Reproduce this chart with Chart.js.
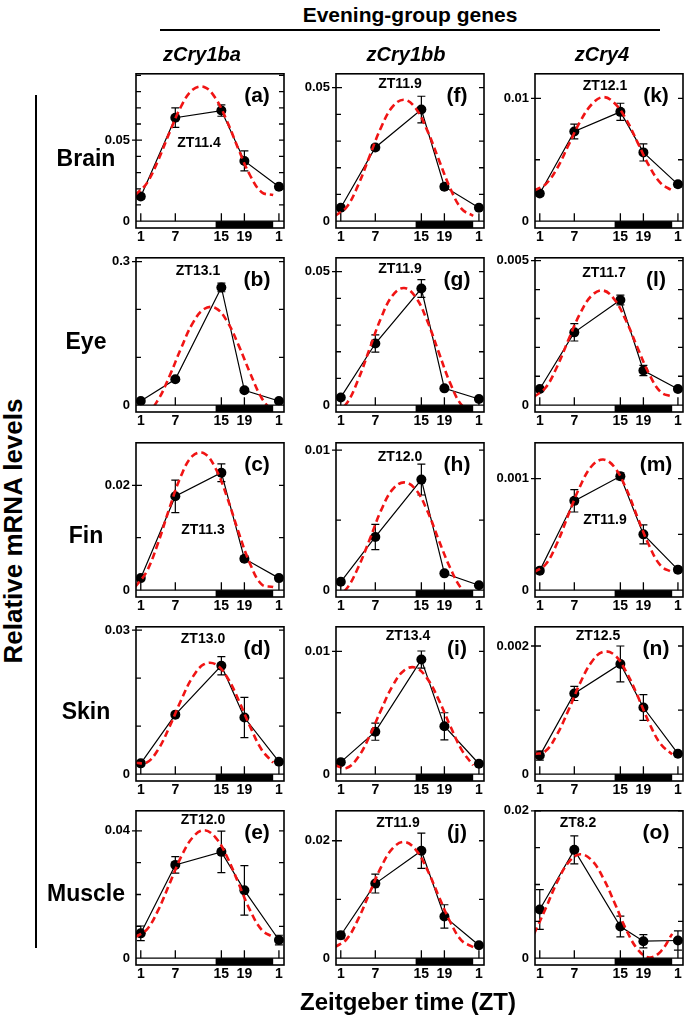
<!DOCTYPE html>
<html>
<head>
<meta charset="utf-8">
<script src="https://cdn.jsdelivr.net/npm/chart.js@4.4.1/dist/chart.umd.min.js"></script>
<style>
  body { margin: 0; background: #fff; }
  #fig { position: relative; width: 685px; height: 1019px; overflow: hidden;
         font-family: "Liberation Sans", Arial, sans-serif; font-weight: bold; color: #000; }
  #fig canvas { position: absolute; }
  .lbl { position: absolute; white-space: nowrap; line-height: 1; transform: translate(-50%, -50%); }
  .rule { position: absolute; background: #000; }
</style>
</head>
<body>
<div id="fig"></div>
<script>
// ==========================================
// DATA
// ==========================================
const genes = ['zCry1ba', 'zCry1bb', 'zCry4'];
const tissues = ['Brain', 'Eye', 'Fin', 'Skin', 'Muscle'];
const panelLetters = ['(a)', '(b)', '(c)', '(d)', '(e)', '(f)', '(g)', '(h)', '(i)', '(j)', '(k)', '(l)', '(m)', '(n)', '(o)'];
const peakLabels = ['ZT11.4', 'ZT13.1', 'ZT11.3', 'ZT13.0', 'ZT12.0',
                    'ZT11.9', 'ZT11.9', 'ZT12.0', 'ZT13.4', 'ZT11.9',
                    'ZT12.1', 'ZT11.7', 'ZT11.9', 'ZT12.5', 'ZT8.2'];

// sampling times
const zt = [1, 7, 15, 19, 25];
const fitZT = [0, 2, 4, 6, 8, 10, 12, 14, 16, 18, 20, 22, 24];
const xTickZT = [1, 7, 15, 19, 25];
const xTickLabels = ['1', '7', '15', '19', '1'];
const darkStart = 14;
const darkEnd = 24;

// y axis: labelled tick, minor step, top of axis
const yTickLabels = ['0.05', '0.3', '0.02', '0.03', '0.04',
                     '0.05', '0.05', '0.01', '0.01', '0.02',
                     '0.01', '0.005', '0.001', '0.002', '0.02'];
const yMinorStep = [0.01, 0.1, 0.01, 0.01, 0.01,
                    0.01, 0.01, 0.005, 0.005, 0.01,
                    0.005, 0.001, 0.0005, 0.001, 0.005];
const yMax = [0.091, 0.308, 0.0281, 0.0307, 0.0463,
              0.0552, 0.0552, 0.01053, 0.012, 0.0251,
              0.0120, 0.0051, 0.00132, 0.0023, 0.020];

// zCry1ba
const aMean = [0.0152, 0.0639, 0.0683, 0.0372, 0.0213];
const aErr  = [0.0015, 0.0060, 0.0035, 0.0062, 0.0015];
const aFit  = [0.0161, 0.0232, 0.0374, 0.0548, 0.0708, 0.0811, 0.0829, 0.0758, 0.0616, 0.0442, 0.0282, 0.0179, 0.0161];
const bMean = [0.0088, 0.054, 0.246, 0.031, 0.0088];
const bErr  = [0.002, 0.004, 0.009, 0.004, 0.002];
const bFit  = [-0.015, -0.017, 0.011, 0.061, 0.119, 0.171, 0.201, 0.203, 0.175, 0.125, 0.067, 0.015, -0.015];
const cMean = [0.0023, 0.0179, 0.0224, 0.0060, 0.0023];
const cErr  = [0.0004, 0.0031, 0.0017, 0.0005, 0.0004];
const cFit  = [0.0006, 0.0035, 0.0090, 0.0157, 0.0218, 0.0256, 0.0261, 0.0232, 0.0177, 0.0110, 0.0050, 0.0011, 0.0006];
const dMean = [0.00225, 0.0124, 0.0226, 0.0118, 0.0026];
const dErr  = [0.0005, 0.0004, 0.0019, 0.0042, 0.0003];
const dFit  = [0.0024, 0.0024, 0.0051, 0.0099, 0.0154, 0.0202, 0.0229, 0.0229, 0.0202, 0.0154, 0.0099, 0.0051, 0.0024];
const eMean = [0.0078, 0.0293, 0.0334, 0.0213, 0.0057];
const eErr  = [0.0023, 0.0026, 0.0065, 0.0078, 0.0015];
const eFit  = [0.0066, 0.0089, 0.0150, 0.0234, 0.0318, 0.0379, 0.0402, 0.0379, 0.0318, 0.0234, 0.0150, 0.0089, 0.0066];

// zCry1bb
const fMean = [0.0050, 0.0276, 0.0418, 0.0129, 0.0050];
const fErr  = [0.0004, 0.0010, 0.0050, 0.0010, 0.0004];
const fFit  = [0.0020, 0.0052, 0.0134, 0.0243, 0.0351, 0.0429, 0.0455, 0.0423, 0.0341, 0.0232, 0.0124, 0.0046, 0.0020];
const gMean = [0.0029, 0.0231, 0.0437, 0.0063, 0.0023];
const gErr  = [0.0004, 0.0032, 0.0033, 0.0006, 0.0003];
const gFit  = [-0.0028, 0.0006, 0.0094, 0.0211, 0.0327, 0.0411, 0.0439, 0.0405, 0.0317, 0.0199, 0.0083, 0.0000, -0.0028];
const hMean = [0.0006, 0.0038, 0.0079, 0.0012, 0.00035];
const hErr  = [0.0001, 0.0009, 0.0011, 0.0001, 0.0001];
const hFit  = [-0.0005, 0.0001, 0.0016, 0.0036, 0.0057, 0.0072, 0.0077, 0.0072, 0.0057, 0.0036, 0.0016, 0.0001, -0.0005];
const iMean = [0.00098, 0.00346, 0.00933, 0.0039, 0.00085];
const iErr  = [0.0001, 0.0007, 0.0007, 0.0011, 0.0001];
const iFit  = [0.00072, 0.00050, 0.00137, 0.00310, 0.00523, 0.00719, 0.00845, 0.00867, 0.00780, 0.00607, 0.00394, 0.00198, 0.00072];
const jMean = [0.0039, 0.0127, 0.0183, 0.0071, 0.0022];
const jErr  = [0.0006, 0.0016, 0.0030, 0.0020, 0.0003];
const jFit  = [0.0019, 0.0032, 0.0066, 0.0111, 0.0155, 0.0187, 0.0198, 0.0185, 0.0151, 0.0106, 0.0062, 0.0030, 0.0019];

// zCry4
const kMean = [0.00225, 0.0073, 0.0089, 0.0056, 0.0030];
const kErr  = [0.0002, 0.0006, 0.0007, 0.0007, 0.0002];
const kFit  = [0.0025, 0.0030, 0.0043, 0.0062, 0.0081, 0.0095, 0.0101, 0.0096, 0.0083, 0.0064, 0.0045, 0.0031, 0.0025];
const lMean = [0.00056, 0.00252, 0.00364, 0.0012, 0.00056];
const lErr  = [0.00005, 0.0003, 0.00017, 0.00018, 0.00004];
const lFit  = [0.00029, 0.00060, 0.00133, 0.00227, 0.00317, 0.00379, 0.00397, 0.00365, 0.00292, 0.00198, 0.00108, 0.00046, 0.00029];
const mMean = [0.000175, 0.0008, 0.00102, 0.0005, 0.000184];
const mErr  = [0.00002, 0.0001, 0.00003, 0.000085, 0.00002];
const mFit  = [0.00016, 0.00023, 0.00042, 0.00068, 0.00093, 0.00111, 0.00117, 0.00110, 0.00091, 0.00065, 0.00040, 0.00022, 0.00016];
const nMean = [0.00029, 0.00126, 0.00172, 0.00104, 0.00032];
const nErr  = [0.00007, 0.00011, 0.00028, 0.0002, 0.00002];
const nFit  = [0.00031, 0.00036, 0.00062, 0.00100, 0.00142, 0.00175, 0.00191, 0.00186, 0.00160, 0.00122, 0.00080, 0.00047, 0.00031];
const oMean = [0.0066, 0.0147, 0.0043, 0.0023, 0.0024];
const oErr  = [0.0027, 0.0019, 0.0014, 0.0009, 0.0013];
const oFit  = [0.0033, 0.0067, 0.0103, 0.0130, 0.0141, 0.0133, 0.0109, 0.0075, 0.0039, 0.0012, 0.0001, 0.0009, 0.0033];

const means = [aMean, bMean, cMean, dMean, eMean, fMean, gMean, hMean, iMean, jMean, kMean, lMean, mMean, nMean, oMean];
const errs  = [aErr, bErr, cErr, dErr, eErr, fErr, gErr, hErr, iErr, jErr, kErr, lErr, mErr, nErr, oErr];
const fits  = [aFit, bFit, cFit, dFit, eFit, fFit, gFit, hFit, iFit, jFit, kFit, lFit, mFit, nFit, oFit];

// ==========================================
// LAYOUT
// ==========================================
const FONT = '"Liberation Sans", Arial, sans-serif';
const RED = '#f01414';
const colLeft = [136, 336, 535];
const rowTop = [70, 254, 439, 623, 807];
const FRAME_W = 149;
const FRAME_H = 158;
const Y_AXIS_W = 50;
const X_AXIS_H = 22;
const PAD_T = 10;
const PAD_R = 4;
const X_MIN = 0.17;
const X_MAX = 25.88;
const ZERO_FRAC = 7 / 151;   // light/dark bar sits below zero

// peak label centres, relative to the frame's top-left corner
const peakPos = [[63, 72], [62, 16], [67, 90], [67, 15], [67, 12],
                 [64, 13], [64, 14], [64, 17], [72, 12], [62, 15],
                 [70, 15], [69, 18], [70, 80], [63, 12], [43, 15]];

const fig = document.getElementById('fig');

function addText(txt, x, y, size, style) {
    const d = document.createElement('div');
    d.className = 'lbl';
    d.textContent = txt;
    d.style.left = x + 'px';
    d.style.top = y + 'px';
    d.style.fontSize = size + 'px';
    if (style) Object.assign(d.style, style);
    fig.appendChild(d);
    return d;
}

function addRule(x, y, w, h) {
    const d = document.createElement('div');
    d.className = 'rule';
    Object.assign(d.style, { left: x + 'px', top: y + 'px', width: w + 'px', height: h + 'px' });
    fig.appendChild(d);
}

// frame, light/dark bar, ticks and error bars
function makeDecor(p) {
    return {
        id: 'decor' + p,
        beforeDatasetsDraw(chart) {
            const { ctx, scales: { x, y } } = chart;
            ctx.save();
            ctx.strokeStyle = '#000';
            ctx.lineWidth = 1.2;
            means[p].forEach((m, i) => {
                const px = x.getPixelForValue(zt[i]);
                const hi = y.getPixelForValue(m + errs[p][i]);
                const lo = y.getPixelForValue(m - errs[p][i]);
                ctx.beginPath();
                ctx.moveTo(px, hi); ctx.lineTo(px, lo);
                ctx.moveTo(px - 4, hi); ctx.lineTo(px + 4, hi);
                ctx.moveTo(px - 4, lo); ctx.lineTo(px + 4, lo);
                ctx.stroke();
            });
            ctx.restore();
        },
        afterDatasetsDraw(chart) {
            const { ctx, chartArea: a, scales: { x, y } } = chart;
            const y0 = y.getPixelForValue(0);
            ctx.save();
            // light / dark bar
            ctx.fillStyle = '#fff';
            ctx.fillRect(a.left, y0, a.width, a.bottom - y0);
            ctx.fillStyle = '#000';
            ctx.fillRect(x.getPixelForValue(darkStart), y0, x.getPixelForValue(darkEnd) - x.getPixelForValue(darkStart), a.bottom - y0);
            ctx.strokeStyle = '#000';
            ctx.lineWidth = 1.2;
            ctx.beginPath();
            ctx.moveTo(a.left, y0); ctx.lineTo(a.right, y0);
            ctx.stroke();
            // x ticks
            ctx.lineWidth = 1.3;
            ctx.beginPath();
            xTickZT.forEach(v => {
                const px = x.getPixelForValue(v);
                ctx.moveTo(px, y0); ctx.lineTo(px, y0 - 8);
            });
            // minor y ticks, inward on both sides
            const step = yMinorStep[p];
            for (let k = 1; k * step <= yMax[p] + 1e-12; k++) {
                const py = y.getPixelForValue(k * step);
                ctx.moveTo(a.left, py); ctx.lineTo(a.left + 5, py);
                ctx.moveTo(a.right, py); ctx.lineTo(a.right - 5, py);
            }
            // labelled tick crosses the frame
            const py = y.getPixelForValue(parseFloat(yTickLabels[p]));
            ctx.moveTo(a.left - 4, py); ctx.lineTo(a.left + 6, py);
            ctx.stroke();
            // frame
            ctx.lineWidth = 1.6;
            ctx.strokeRect(a.left, a.top, a.width, a.height);
            ctx.restore();
        }
    };
}

function drawPanel(p) {
    const col = Math.floor(p / 5);
    const row = p % 5;
    const canvas = document.createElement('canvas');
    canvas.width = Y_AXIS_W + FRAME_W + PAD_R;
    canvas.height = PAD_T + FRAME_H + X_AXIS_H;
    canvas.style.left = (colLeft[col] - Y_AXIS_W) + 'px';
    canvas.style.top = (rowTop[row] - PAD_T) + 'px';
    fig.appendChild(canvas);

    const yLabelValue = parseFloat(yTickLabels[p]);

    new Chart(canvas, {
        type: 'scatter',
        data: {
            datasets: [
                {
                    label: 'cosinor fit',
                    data: fitZT.map((t, i) => ({ x: t, y: fits[p][i] })),
                    showLine: true,
                    borderColor: RED,
                    borderWidth: 2.6,
                    borderDash: [7, 4],
                    pointRadius: 0,
                    tension: 0.4,
                    order: 0
                },
                {
                    label: 'mean',
                    data: zt.map((t, i) => ({ x: t, y: means[p][i] })),
                    showLine: true,
                    borderColor: '#000',
                    borderWidth: 1.2,
                    pointRadius: 5,
                    pointBackgroundColor: '#000',
                    pointBorderWidth: 0,
                    order: 1
                }
            ]
        },
        options: {
            responsive: false,
            animation: false,
            events: [],
            layout: { padding: { top: PAD_T, right: PAD_R, left: 0, bottom: 0 } },
            plugins: { legend: { display: false }, tooltip: { enabled: false } },
            scales: {
                x: {
                    type: 'linear',
                    min: X_MIN,
                    max: X_MAX,
                    afterBuildTicks: s => { s.ticks = xTickZT.map(v => ({ value: v })); },
                    afterFit: s => { s.height = X_AXIS_H; },
                    grid: { display: false, drawTicks: false },
                    border: { display: false },
                    ticks: {
                        callback: (v, i) => xTickLabels[i],
                        font: { family: FONT, size: 14, weight: 'bold' },
                        color: '#000',
                        padding: 1,
                        autoSkip: false,
                        maxRotation: 0
                    }
                },
                y: {
                    type: 'linear',
                    min: -yMax[p] * ZERO_FRAC,
                    max: yMax[p],
                    afterBuildTicks: s => { s.ticks = [{ value: 0 }, { value: yLabelValue }]; },
                    afterFit: s => { s.width = Y_AXIS_W; },
                    grid: { display: false, drawTicks: false },
                    border: { display: false },
                    ticks: {
                        callback: (v, i) => ['0', yTickLabels[p]][i],
                        font: { family: FONT, size: 13, weight: 'bold' },
                        color: '#000',
                        padding: 6,
                        autoSkip: false
                    }
                }
            }
        },
        plugins: [makeDecor(p)]
    });

    // panel letter and peak time
    addText(panelLetters[p], colLeft[col] + FRAME_W - 28, rowTop[row] + 24, 21);
    addText(peakLabels[p], colLeft[col] + peakPos[p][0], rowTop[row] + peakPos[p][1], 14);
}

// ==========================================
// BUILD FIGURE
// ==========================================
for (let p = 0; p < 15; p++) drawPanel(p);

// headers
addText('Evening-group genes', 410, 14, 21);
addRule(160, 29, 500, 1.5);
const geneX = [202, 406, 602];
genes.forEach((g, i) => addText(g, geneX[i], 54, 20, { fontStyle: 'italic' }));

// tissue labels
const tissueY = [158, 341, 535, 711, 893];
tissues.forEach((t, i) => addText(t, 86, tissueY[i], 23));

// axis titles
addRule(35, 95, 1.5, 853);
addText('Relative mRNA levels', 13, 531, 26, { transform: 'translate(-50%, -50%) rotate(-90deg)' });
addText('Zeitgeber time (ZT)', 408, 1002, 24);
</script>
</body>
</html>
